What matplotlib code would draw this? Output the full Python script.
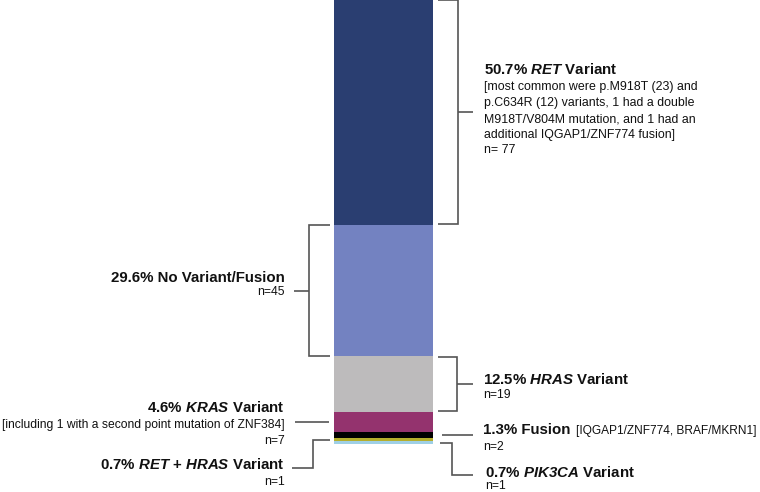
import matplotlib
matplotlib.use("Agg")
import matplotlib.pyplot as plt
import numpy as np

plt.rcParams['font.family'] = ['Liberation Sans', 'DejaVu Sans']
plt.rcParams['mathtext.fontset'] = 'custom'
plt.rcParams['mathtext.rm'] = 'Liberation Sans'
plt.rcParams['mathtext.bf'] = 'Liberation Sans:bold'
plt.rcParams['mathtext.it'] = 'Liberation Sans:italic'
plt.rcParams['mathtext.bfit'] = 'Liberation Sans:italic:bold'

# stack from bottom to top
categories = ['PIK3CA Variant', 'RET + HRAS Variant', 'Fusion', 'KRAS Variant',
              'HRAS Variant', 'No Variant/Fusion', 'RET Variant']
counts = [1, 1, 2, 7, 19, 45, 77]
percents = [0.7, 0.7, 1.3, 4.6, 12.5, 29.6, 50.7]
colors = ['#9fd0e6', '#b5ae2c', '#000000', '#94336e', '#bdbbbc', '#7382c1', '#2a3e71']

W, H = 760, 492
fig = plt.figure(figsize=(W / 100, H / 100), dpi=100)
ax = fig.add_axes([0, 0, 1, 1])
ax.set_axis_off()

total = sum(counts)
bar_bottom_px = 444          # pixel row where the stack starts
ypp = total / bar_bottom_px  # counts per pixel
ax.set_xlim(0, W)
ax.set_ylim(-(H - bar_bottom_px) * ypp, total)

bottoms = np.concatenate([[0], np.cumsum(counts)[:-1]])
ax.bar(383.5, counts, width=99, bottom=bottoms, color=colors, linewidth=0)


def py(p):
    # pixel row -> data y
    return total - p * ypp


LC = '#555555'
LW = 1.2


def line(xs, ys):
    ax.plot(xs, ys, color=LC, lw=LW, solid_capstyle='butt', solid_joinstyle='miter')


def bracket(i, x_near, x_far, x_tick):
    y0 = bottoms[i] + 0.15
    y1 = bottoms[i] + counts[i] - 0.15
    ym = bottoms[i] + counts[i] / 2
    line([x_near, x_far, x_far, x_near], [y0, y0, y1, y1])
    line([x_far, x_tick], [ym, ym])


def mid(i):
    return bottoms[i] + counts[i] / 2


TS = 10.8   # title size
SS = 8.9    # sub text size
NS = 8.8    # n= size
TC = '#111111'


def bf(s):
    return r'\mathbf{' + s.replace(' ', r'\ ').replace('%', r'\%') + '}'


def bfit(s):
    return r'\mathbfit{' + s.replace(' ', r'\ ') + '}'


def title(x, y, pct, gene, rest, ha='left'):
    s = bf(f'{pct}% ')
    if gene:
        s += bfit(gene)
    s += bf(rest)
    fig.text(x / W, 1 - y / H, '$' + s + '$', fontsize=TS, ha=ha, va='baseline', color=TC)


def plain(x, y, s, size, ha='left'):
    return fig.text(x / W, 1 - y / H, s, fontsize=size, ha=ha, va='baseline', color=TC)


# RET Variant (right, top)
bracket(6, 438, 458, 473)
title(484, 74, percents[6], 'RET', ' Variant')
ret_lines = ['[most common were p.M918T (23) and',
             'p.C634R (12) variants, 1 had a double',
             'M918T/V804M mutation, and 1 had an',
             'additional IQGAP1/ZNF774 fusion]']
for k, s in enumerate(ret_lines):
    plain(484, 90 + 16 * k, s, SS)
plain(484, 153, f'n= {counts[6]}', SS)

# No Variant/Fusion (left)
bracket(5, 330, 309, 294)
fig.text(285 / W, 1 - 282 / H, f'{percents[5]}% No Variant/Fusion', fontsize=TS,
         fontweight='bold', ha='right', va='baseline', color=TC)
plain(285, 295, f'n={counts[5]}', NS, ha='right')

# HRAS Variant (right)
bracket(4, 438, 457, 473)
title(483, 384, percents[4], 'HRAS', ' Variant')
plain(483, 398, f'n={counts[4]}', NS)

# KRAS Variant (left)
line([295, 329], [mid(3), mid(3)])
title(285, 412, percents[3], 'KRAS', ' Variant', ha='right')
plain(285, 428, '[including 1 with a second point mutation of ZNF384]', 8.7, ha='right')
plain(285, 444, f'n={counts[3]}', NS, ha='right')

# Fusion (right)
line([442, 473], [mid(2), mid(2)])
ft = fig.text(483 / W, 1 - 434 / H, f'{percents[2]}% Fusion', fontsize=TS,
              fontweight='bold', ha='left', va='baseline', color=TC)
x_after = ft.get_window_extent(fig.canvas.get_renderer()).x1 + 6
plain(x_after, 434, '[IQGAP1/ZNF774, BRAF/MKRN1]', 8.6)
plain(483, 450, f'n={counts[2]}', NS)

# RET + HRAS Variant (left, elbow)
line([330, 313, 313, 292], [mid(1), mid(1), py(468), py(468)])
s = (bf(f'{percents[1]}% ') + bfit('RET') + r'\mathbf{\ {+}\ }'
     + bfit('HRAS') + bf(' Variant'))
fig.text(285 / W, 1 - 469 / H, '$' + s + '$', fontsize=TS, ha='right', va='baseline', color=TC)
plain(285, 485, f'n={counts[1]}', NS, ha='right')

# PIK3CA Variant (right, elbow)
line([440, 452, 452, 473], [mid(0), mid(0), py(475), py(475)])
title(485, 477, percents[0], 'PIK3CA', ' Variant')
plain(485, 489, f'n={counts[0]}', NS)

fig.savefig('out.png', dpi=100)
